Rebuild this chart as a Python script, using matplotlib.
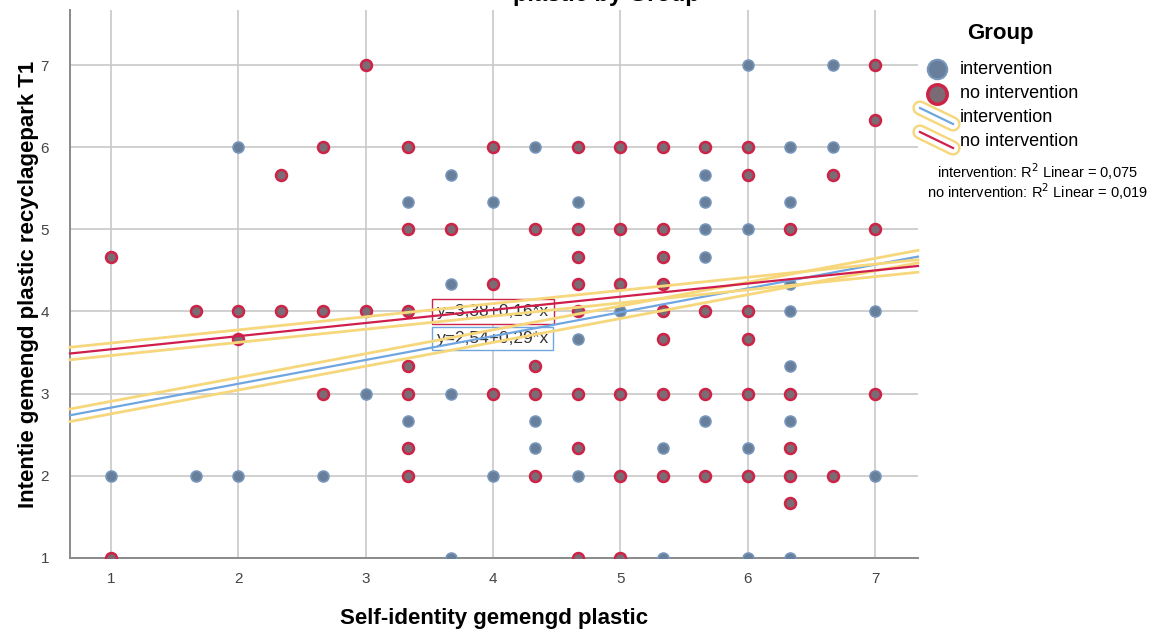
import matplotlib
matplotlib.use("Agg")
import matplotlib.pyplot as plt
import matplotlib.patheffects as pe
from matplotlib.lines import Line2D

plt.rcParams['font.family'] = ['Liberation Sans', 'DejaVu Sans']

# intervention group (x = self-identity, y = intentie T1)
int_x = [1, 1.667, 2, 2, 2.667, 3, 3.333, 3.333, 3.667, 3.667, 3.667, 3.667,
         4, 4, 4.333, 4.333, 4.333, 4.667, 4.667, 4.667, 5, 5.333, 5.333,
         5.667, 5.667, 5.667, 5.667, 5.667, 6, 6, 6, 6,
         6.333, 6.333, 6.333, 6.333, 6.333, 6.333, 6.333, 6.667, 6.667, 7, 7]
int_y = [2, 2, 6, 2, 2, 3, 5.333, 2.667, 5.667, 4.333, 3, 1,
         5.333, 2, 6, 2.667, 2.333, 5.333, 3.667, 2, 4, 2.333, 1,
         5.667, 5.333, 5, 4.667, 2.667, 7, 5, 2.333, 1,
         6, 5.333, 4.333, 4, 3.333, 2.667, 1, 7, 6, 4, 2]

# no intervention group
noint_x = [1, 1, 1.667, 2, 2, 2.333, 2.333, 2.667, 2.667, 2.667, 3, 3,
           3.333, 3.333, 3.333, 3.333, 3.333, 3.333, 3.333, 3.667,
           4, 4, 4, 4.333, 4.333, 4.333, 4.333,
           4.667, 4.667, 4.667, 4.667, 4.667, 4.667, 4.667, 4.667,
           5, 5, 5, 5, 5, 5,
           5.333, 5.333, 5.333, 5.333, 5.333, 5.333, 5.333, 5.333,
           5.667, 5.667, 5.667, 5.667, 6, 6, 6, 6, 6, 6,
           6.333, 6.333, 6.333, 6.333, 6.333, 6.667, 6.667, 7, 7, 7, 7]
noint_y = [4.667, 1, 4, 4, 3.667, 5.667, 4, 6, 4, 3, 7, 4,
           6, 5, 4, 3.333, 3, 2.333, 2, 5,
           6, 4.333, 3, 5, 3.333, 3, 2,
           6, 5, 4.667, 4.333, 4, 3, 2.333, 1,
           6, 5, 4.333, 3, 2, 1,
           6, 5, 4.667, 4.333, 4, 3.667, 3, 2,
           6, 4, 3, 2, 6, 5.667, 4, 3.667, 3, 2,
           5, 3, 2.333, 2, 1.667, 5.667, 2, 7, 6.333, 5, 3]

# fit line coefficients (intercept, slope) and R2
fit_int = (2.54, 0.29)
fit_noint = (3.38, 0.16)
r2_int = "0,075"
r2_noint = "0,019"

blue_fill = '#677f9b'
blue_edge = '#7896bb'
red_fill = '#7b6b74'
red_edge = '#cc2347'
blue_line = '#6fa6e0'
red_line = '#d01e4c'
halo = '#f6d77c'

fig = plt.figure(figsize=(11.62, 6.35), dpi=100)
ax = fig.add_axes([0.0602, 0.1213, 0.7298, 0.863])

xmin, xmax = 0.678, 7.338
ax.set_xlim(xmin, xmax)
ax.set_ylim(1, 7.67)
ax.set_xticks(range(1, 8))
ax.set_yticks(range(1, 8))
ax.grid(True, color='#c8c8c8', linewidth=1.2)
ax.set_axisbelow(True)
for s in ['top', 'right']:
    ax.spines[s].set_visible(False)
for s in ['left', 'bottom']:
    ax.spines[s].set_color('#8a8a8a')
    ax.spines[s].set_linewidth(1.4)
ax.tick_params(length=0, labelsize=11, labelcolor='#444444')
ax.tick_params(axis='y', pad=15)
ax.tick_params(axis='x', pad=10)

ax.scatter(int_x, int_y, s=62, c=blue_fill, edgecolors=blue_edge,
           linewidths=1.2, zorder=3)
ax.scatter(noint_x, noint_y, s=62, c=red_fill, edgecolors=red_edge,
           linewidths=1.8, zorder=4)

# equation labels
ax.text(4.0, 4.0, 'y=3,38+0,16*x', ha='center', va='center', fontsize=12.5,
        color='#333333', zorder=5,
        bbox=dict(boxstyle='square,pad=0.28', fc='white', ec=red_edge, lw=1))
ax.text(4.0, 3.67, 'y=2,54+0,29*x', ha='center', va='center', fontsize=12.5,
        color='#333333', zorder=5,
        bbox=dict(boxstyle='square,pad=0.25', fc='white', ec=blue_line, lw=1))

halo_fx = [pe.Stroke(linewidth=2, foreground=halo, offset=(0, 4.5)),
           pe.Stroke(linewidth=2, foreground=halo, offset=(0, -4.5)),
           pe.Normal()]
for (b0, b1), col in [(fit_int, blue_line), (fit_noint, red_line)]:
    ax.plot([xmin, xmax], [b0 + b1 * xmin, b0 + b1 * xmax], color=col,
            linewidth=1.6, zorder=6, path_effects=halo_fx, clip_on=False)

ax.set_xlabel('Self-identity gemengd plastic', fontsize=16, fontweight='bold',
              labelpad=16)
ax.set_ylabel('Intentie gemengd plastic recyclagepark T1', fontsize=16,
              fontweight='bold', labelpad=1)

# cut-off title at the top
fig.text(0.522, 1 - 1.5 / 635, 'plastic by Group', ha='center', va='baseline',
         fontsize=17, fontweight='bold')

# legend, drawn by hand
W, H = 1162, 635
def fx(px):
    return px / W
def fy(py):
    return 1 - py / H

fig.text(fx(1000), fy(33), 'Group', ha='center', va='center', fontsize=16,
         fontweight='bold')
for py, fc, ec, lw, lab in [(69, blue_fill, blue_edge, 1.5, 'intervention'),
                            (94, red_fill, red_edge, 2.5, 'no intervention')]:
    fig.add_artist(Line2D([fx(937)], [fy(py)], marker='o', markersize=14,
                          markerfacecolor=fc, markeredgecolor=ec,
                          markeredgewidth=lw, linestyle='none'))
    fig.text(fx(960), fy(py), lab, va='center', fontsize=13)
for py, col, lab in [(118, blue_line, 'intervention'),
                     (142, red_line, 'no intervention')]:
    xs = [fx(920), fx(953)]
    ys = [fy(py - 10), fy(py + 6)]
    fig.add_artist(Line2D(xs, ys, color=halo, linewidth=11,
                          solid_capstyle='round'))
    fig.add_artist(Line2D(xs, ys, color='white', linewidth=7.5,
                          solid_capstyle='round'))
    fig.add_artist(Line2D(xs, ys, color=col, linewidth=1.6))
    fig.text(fx(960), fy(py), lab, va='center', fontsize=13)

fig.text(fx(1037), fy(172), 'intervention: R$^2$ Linear = ' + r2_int,
         ha='center', va='center', fontsize=10.5)
fig.text(fx(1037), fy(192), 'no intervention: R$^2$ Linear = ' + r2_noint,
         ha='center', va='center', fontsize=10.5)

fig.savefig('out.png', dpi=100)
